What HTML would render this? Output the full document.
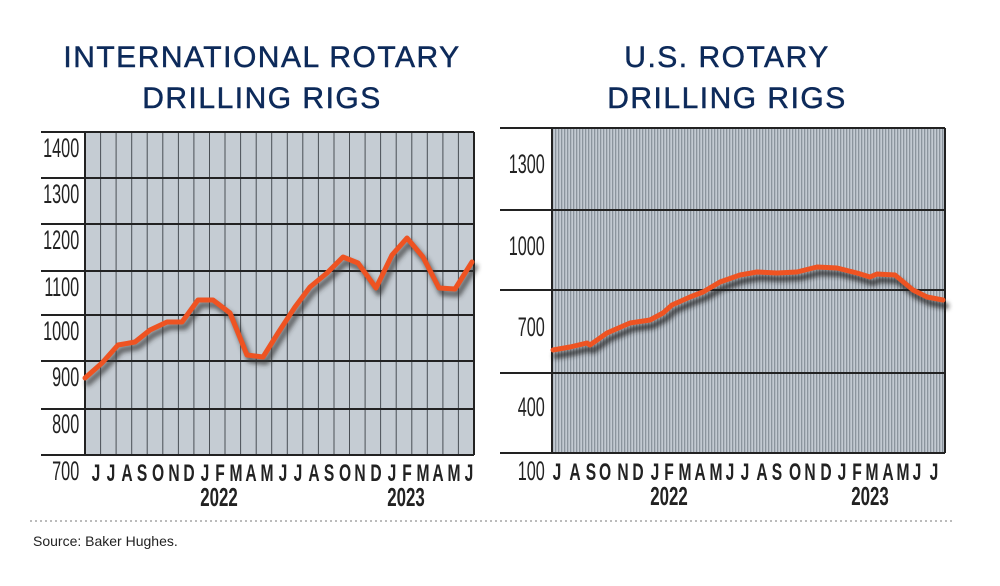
<!DOCTYPE html>
<html><head><meta charset="utf-8"><style>
html,body{margin:0;padding:0;background:#fff;}
svg{display:block;}
</style></head><body>
<svg width="1000" height="586" viewBox="0 0 1000 586" xmlns="http://www.w3.org/2000/svg">
<defs>
<pattern id="st" width="3" height="10" patternUnits="userSpaceOnUse">
<rect width="3" height="10" fill="#c3cad2"/><rect width="1.3" height="10" fill="#8b949d"/>
</pattern>
<filter id="sh" x="-10%" y="-10%" width="120%" height="130%"><feGaussianBlur stdDeviation="2.5"/></filter>
</defs>
<g font-family="Liberation Sans, sans-serif" fill="#0d2a5a" stroke="#0d2a5a" stroke-width="0.5" font-size="30" text-anchor="middle" letter-spacing="1.5">
<text x="262" y="67">INTERNATIONAL ROTARY</text>
<text x="262" y="108">DRILLING RIGS</text>
<text x="727" y="67">U.S. ROTARY</text>
<text x="727" y="108">DRILLING RIGS</text>
</g>
<!-- Left chart -->
<rect x="85" y="132" width="389" height="323" fill="#c5ccd3"/>
<g stroke="#4a4f55" stroke-width="1">
<path d="M100.6 132V455M116.1 132V455M131.7 132V455M147.2 132V455M162.8 132V455M178.4 132V455M193.9 132V455M209.5 132V455M225 132V455M240.6 132V455M256.2 132V455M271.7 132V455M287.3 132V455M302.8 132V455M318.4 132V455M334 132V455M349.5 132V455M365.1 132V455M380.6 132V455M396.2 132V455M411.8 132V455M427.3 132V455M442.9 132V455M458.4 132V455"/>
</g>
<g stroke="#222" stroke-width="2">
<path d="M41 132H474M41 178H474M41 224H474M41 271H474M41 315H474M41 361H474M41 409H474M41 455H474"/>
<path d="M85 132V455M474 132V455"/>
</g>
<g fill="none" stroke-linejoin="round" stroke-linecap="round">
<polyline filter="url(#sh)" stroke="#333" stroke-opacity="0.7" stroke-width="6" transform="translate(3,5)" points="85,378 102,363 118,345 135,342 150,330 167,322 182,322 198,300 213,300 230,313 247,355 263,357 278,333 295,307 310,287 327,273 343,257 358,263 376,288 392,255 407,238 423,257 439,288 455,289 472,262"/>
<polyline stroke="#ee5322" stroke-width="5" points="85,378 102,363 118,345 135,342 150,330 167,322 182,322 198,300 213,300 230,313 247,355 263,357 278,333 295,307 310,287 327,273 343,257 358,263 376,288 392,255 407,238 423,257 439,288 455,289 472,262"/>
</g>
<g font-family="Liberation Sans, sans-serif" font-size="27" fill="#222" text-anchor="end">
<g transform="scale(0.6,1)">
<text x="132" y="157">1400</text><text x="132" y="203">1300</text><text x="132" y="249">1200</text>
<text x="132" y="296">1100</text><text x="132" y="340">1000</text><text x="132" y="386">900</text>
<text x="132" y="433">800</text><text x="132" y="480">700</text>
</g></g>
<g font-family="Liberation Sans, sans-serif" font-size="24" font-weight="bold" fill="#222" text-anchor="middle">
<g transform="scale(0.65,1)">
<text x="147.7" y="481">J</text><text x="170.8" y="481">J</text><text x="195.4" y="481">A</text><text x="218.5" y="481">S</text><text x="243.1" y="481">O</text><text x="267.7" y="481">N</text><text x="290.8" y="481">D</text><text x="315.4" y="481">J</text><text x="338.5" y="481">F</text><text x="363.1" y="481">M</text><text x="386.2" y="481">A</text><text x="410.8" y="481">M</text><text x="435.4" y="481">J</text><text x="458.5" y="481">J</text><text x="483.1" y="481">A</text><text x="506.2" y="481">S</text><text x="530.8" y="481">O</text><text x="553.8" y="481">N</text><text x="578.5" y="481">D</text><text x="603.1" y="481">J</text><text x="626.2" y="481">F</text><text x="650.8" y="481">M</text><text x="673.8" y="481">A</text><text x="698.5" y="481">M</text><text x="721.5" y="481">J</text>
<text x="336.9" y="506" font-size="26">2022</text><text x="624.6" y="506" font-size="26">2023</text>
</g></g>
<!-- Right chart -->
<rect x="552" y="128" width="393" height="325" fill="url(#st)"/>
<g stroke="#222" stroke-width="2">
<path d="M500 128H945M500 210H945M500 290H945M500 373H945M500 453H945"/>
<path d="M552 128V453M945 128V453"/>
</g>
<g fill="none" stroke-linejoin="round" stroke-linecap="round">
<polyline filter="url(#sh)" stroke="#222" stroke-opacity="0.75" stroke-width="6" transform="translate(3,6)" points="553,350 570,347 587,343 590,345 607,333 630,323 650,320 663,313 672,305 690,297 703,292 720,282 740,275 757,272 777,273 797,272 817,267 837,268 857,273 870,277 877,274 895,275 913,290 927,297 943,300"/>
<polyline stroke="#ee5322" stroke-width="5" points="553,350 570,347 587,343 590,345 607,333 630,323 650,320 663,313 672,305 690,297 703,292 720,282 740,275 757,272 777,273 797,272 817,267 837,268 857,273 870,277 877,274 895,275 913,290 927,297 943,300"/>
</g>
<g font-family="Liberation Sans, sans-serif" font-size="27" fill="#222" text-anchor="end">
<g transform="scale(0.6,1)">
<text x="908" y="173">1300</text><text x="908" y="255">1000</text><text x="908" y="336">700</text>
<text x="908" y="416">400</text><text x="908" y="480">100</text>
</g></g>
<g font-family="Liberation Sans, sans-serif" font-size="24" font-weight="bold" fill="#222" text-anchor="middle">
<g transform="scale(0.65,1)">
<text x="856.9" y="480">J</text><text x="884.6" y="480">A</text><text x="909.2" y="480">S</text><text x="930.8" y="480">O</text><text x="958.5" y="480">N</text><text x="981.5" y="480">D</text><text x="1007.7" y="480">J</text><text x="1029.2" y="480">F</text><text x="1053.8" y="480">M</text><text x="1076.9" y="480">A</text><text x="1101.5" y="480">M</text><text x="1123.1" y="480">J</text><text x="1146.2" y="480">J</text><text x="1172.3" y="480">A</text><text x="1195.4" y="480">S</text><text x="1223.1" y="480">O</text><text x="1246.2" y="480">N</text><text x="1270.8" y="480">D</text><text x="1295.4" y="480">J</text><text x="1318.5" y="480">F</text><text x="1341.5" y="480">M</text><text x="1366.2" y="480">A</text><text x="1389.2" y="480">M</text><text x="1410.8" y="480">J</text><text x="1436.9" y="480">J</text>
<text x="1029.2" y="505" font-size="26">2022</text><text x="1338.5" y="505" font-size="26">2023</text>
</g></g>
<line x1="30" y1="521" x2="955" y2="521" stroke="#777" stroke-width="1" stroke-dasharray="2,3"/>
<text x="33" y="546" font-family="Liberation Sans, sans-serif" font-size="14" fill="#222">Source: Baker Hughes.</text>
</svg>
</body></html>
